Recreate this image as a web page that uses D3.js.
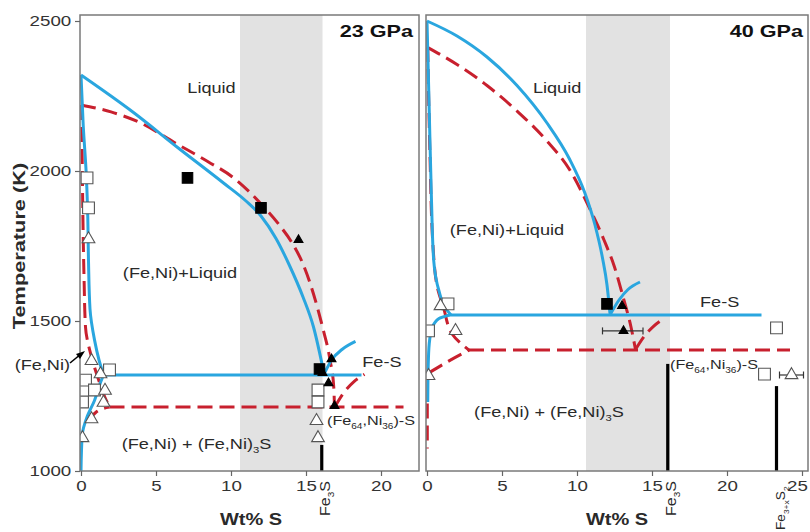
<!DOCTYPE html>
<html><head><meta charset="utf-8">
<script src="https://cdn.jsdelivr.net/npm/d3@7"></script>
<style>html,body{margin:0;padding:0;background:#fff}svg{display:block}</style>
</head><body><svg id="c" width="810" height="532"></svg>
<script>
// ---------- DATA ----------
const tempTicks = [1000, 1500, 2000, 2500];
const wtTicks23 = [0, 5, 10, 15, 20];
const wtTicks40 = [0, 5, 10, 15, 20, 25];
const band23 = [10.6, 16.1];
const band40 = [10.6, 16.2];

// 23 GPa curves [wt% S, T(K)]
const blue23Liquidus = [[0,2320],[3.5,2195],[6.4,2080],[9.5,1960],[11.0,1900],[12.0,1850],[13.0,1775],[13.9,1685],[14.8,1580],[15.5,1480],[16.2,1325]];
const blue23FeS = [[16.2,1322],[16.7,1370],[17.4,1405],[18.3,1432]];
const blue23Eutectic = [[1.4,1320],[18.7,1320]];
const blue23Solidus = [[0,2320],[0.15,2150],[0.35,1990],[0.45,1850],[0.5,1700],[0.6,1540],[0.9,1437],[1.2,1370],[1.5,1320]];
const blue23Lower = [[0.0,1000],[0.08,1120],[0.4,1180],[0.9,1235],[1.3,1295],[1.5,1320]];
const red23Liquidus = [[0,2220],[2,2197],[3.9,2162],[6.4,2090],[8.5,2030],[10.1,1980],[12.1,1885],[13.3,1815],[14.1,1758],[14.8,1690],[15.5,1590],[16.1,1480],[16.6,1370],[16.85,1280],[16.9,1212]];
const red23FeS = [[16.9,1212],[17.5,1260],[18.2,1298],[18.9,1322]];
const red23Eutectic = [[1.9,1213],[21.5,1213]];
const red23Solidus = [[0.05,2220],[0.1,1950],[0.2,1650],[0.3,1480],[0.7,1380],[1.2,1300],[1.6,1245],[1.9,1213]];
const red23Lower = [[0.4,1165],[1.0,1196],[1.9,1213]];

// 40 GPa curves
const blue40Liquidus = [[0,2500],[2,2450],[4,2380],[6,2285],[8,2160],[9.5,2040],[10.5,1930],[11.2,1820],[11.7,1710],[12.0,1620],[12.2,1525]];
const blue40FeS = [[12.2,1520],[12.8,1570],[13.4,1605],[14.2,1630]];
const blue40Eutectic = [[1.4,1520],[22.3,1520]];
const blue40Solidus = [[0,2500],[0.15,2200],[0.3,1900],[0.45,1700],[0.8,1600],[1.2,1545],[1.6,1520]];
const blue40Lower = [[0.05,1230],[0.08,1350],[0.15,1425],[0.35,1478],[0.8,1508],[1.5,1520]];
const red40Liquidus = [[0,2413],[2,2355],[4,2285],[6,2200],[8,2100],[9.5,2005],[10.8,1880],[11.8,1770],[12.5,1680],[13.1,1575],[13.6,1480],[13.9,1405]];
const red40FeS = [[13.9,1405],[14.5,1450],[15.1,1482],[15.7,1505]];
const red40Eutectic = [[2.8,1403],[24.2,1403]];
const red40Solidus = [[0.05,2413],[0.2,2050],[0.4,1750],[0.7,1610],[1.1,1545],[1.7,1455],[2.8,1403]];
const red40Lower = [[0.15,1328],[1.5,1368],[2.8,1403]];
const red40Axis = [[0.02,1225],[0.02,1075]];

// Experimental points [wt% S, T]
const open23Squares = [[0.4,1977],[0.5,1877],[1.9,1337],[0.3,1303],[0.9,1270],[0.1,1230],[15.8,1270],[15.8,1230]];
const open23Triangles = [[0.5,1773],[0.7,1367],[1.3,1323],[1.6,1268],[1.5,1228],[0.7,1173],[0.1,1110],[15.7,1167],[15.8,1110]];
const solid23Squares = [[7.1,1977],[12.0,1877],[15.9,1340]];
const solid23Triangles = [[14.5,1770],[16.7,1373],[16.1,1327],[16.5,1293],[16.9,1217]];
const open40Squares = [[1.4,1557],[0.1,1467],[23.3,1477],[22.5,1323]];
const open40Triangles = [[0.9,1550],[1.9,1467],[0.1,1317],[24.3,1320]];
const solid40Squares = [[12.0,1557]];
const solid40Triangles = [[13.0,1550],[13.1,1467]];
const errorBars40 = [[11.7,14.4,1467],[23.5,25.1,1320]];

// Stoichiometric compounds [wt% S, top T]
const phases23 = [[16.05,1087]];
const phases40 = [[16.05,1357],[23.3,1283]];

// ---------- DRAW ----------
const svg = d3.select('#c');
const FONT = '"Liberation Sans", Arial, Helvetica, sans-serif';
const SX = 1.25;
const BLUE = '#2aa6df', RED = '#c8202e';
const y = d3.scaleLinear().domain([1000, 2520]).range([471, 15]);

function txt(g, x, yy, parts, o) {
  o = o || {};
  const size = o.size || 14.5;
  const t = g.append('text')
    .attr('transform', `translate(${x},${yy}) rotate(${o.rot||0}) scale(${o.sx||SX},1)`)
    .attr('font-family', FONT).attr('font-size', size)
    .attr('font-weight', o.weight||'normal').attr('fill', o.fill||'#2a2a2a')
    .attr('text-anchor', o.anchor||'start');
  let sub = false;
  parts.forEach(p => {
    const isSub = Array.isArray(p);
    const ts = t.append('tspan').text(isSub ? p[0] : p);
    if (isSub) {
      ts.attr('font-size', size*0.62);
      if (!sub) { ts.attr('dy', 4); sub = true; }
    } else if (sub) { ts.attr('dy', -4); sub = false; }
  });
  return t;
}

const panels = [
  {key:'23', left:80, right:419, x0:81, max:22.6, ticks:wtTicks23, band:band23, title:251,
   curves:[[blue23Liquidus,'x','b'],[blue23FeS,'x','b'],[blue23Eutectic,'l','b'],[blue23Solidus,'y','b'],[blue23Lower,'y','b'],
           [red23Liquidus,'x','r'],[red23FeS,'x','r'],[red23Eutectic,'l','r'],[red23Solidus,'y','r'],[red23Lower,'x','r']],
   oSq:open23Squares, oTr:open23Triangles, sSq:solid23Squares, sTr:solid23Triangles, err:[],
   phases:phases23, yAxis:true},
  {key:'40', left:426, right:808, x0:427, max:25.4, ticks:wtTicks40, band:band40, title:617,
   curves:[[blue40Liquidus,'x','b'],[blue40FeS,'x','b'],[blue40Eutectic,'l','b'],[blue40Solidus,'y','b'],[blue40Lower,'y','b'],
           [red40Liquidus,'x','r'],[red40FeS,'x','r'],[red40Eutectic,'l','r'],[red40Solidus,'y','r'],[red40Lower,'x','r'],[red40Axis,'l','r']],
   oSq:open40Squares, oTr:open40Triangles, sSq:solid40Squares, sTr:solid40Triangles, err:errorBars40,
   phases:phases40, yAxis:false}
];

panels.forEach(p => {
  const x = d3.scaleLinear().domain([0, p.max]).range([p.x0, p.x0 + p.max*15]);
  p.x = x;
  const g = svg.append('g');
  const top = y.range()[1], bot = y.range()[0];
  g.append('clipPath').attr('id','clip'+p.key).append('rect')
    .attr('x', p.left).attr('y', top).attr('width', p.right-p.left).attr('height', bot-top);
  g.append('rect').attr('x', x(p.band[0])).attr('y', top)
    .attr('width', x(p.band[1]) - x(p.band[0])).attr('height', bot-top).attr('fill', '#e2e2e2');
  const pg = g.append('g').attr('clip-path', `url(#clip${p.key})`);
  const mkLine = c => {
    const curve = c === 'x' ? d3.curveMonotoneX : c === 'y' ? d3.curveMonotoneY : d3.curveLinear;
    return d3.line().x(d => x(d[0])).y(d => y(d[1])).curve(curve);
  };
  const sortPts = (pts, c) => {
    const s = pts.slice();
    if (c === 'x') s.sort((a,b) => a[0]-b[0]);
    if (c === 'y') s.sort((a,b) => b[1]-a[1]);
    return s;
  };
  pg.selectAll('line.ph').data(p.phases).join('line')
    .attr('x1', d => x(d[0])).attr('x2', d => x(d[0]))
    .attr('y1', y(1000)).attr('y2', d => y(d[1]))
    .attr('stroke', '#000').attr('stroke-width', 3.2);
  const reds = p.curves.filter(c => c[2] === 'r'), blues = p.curves.filter(c => c[2] === 'b');
  pg.selectAll('path.red').data(reds).join('path')
    .attr('d', c => mkLine(c[1])(sortPts(c[0], c[1]))).attr('fill','none').attr('stroke', RED)
    .attr('stroke-width', 3).attr('stroke-dasharray','15,7');
  pg.selectAll('path.blue').data(blues).join('path')
    .attr('d', c => mkLine(c[1])(sortPts(c[0], c[1]))).attr('fill','none').attr('stroke', BLUE).attr('stroke-width', 3);
  p.err.forEach(e => {
    const eg = pg.append('g').attr('stroke','#333').attr('stroke-width',1.2);
    eg.append('line').attr('x1', x(e[0])).attr('x2', x(e[1])).attr('y1', y(e[2])).attr('y2', y(e[2]));
    eg.append('line').attr('x1', x(e[0])).attr('x2', x(e[0])).attr('y1', y(e[2])-3.5).attr('y2', y(e[2])+3.5);
    eg.append('line').attr('x1', x(e[1])).attr('x2', x(e[1])).attr('y1', y(e[2])-3.5).attr('y2', y(e[2])+3.5);
  });
  const sym = (type, size) => d3.symbol().type(type).size(size)();
  const mk = (data, type, size, fill, stroke) => pg.selectAll(null).data(data).join('path')
    .attr('d', sym(type, size))
    .attr('transform', d => `translate(${x(d[0])},${y(d[1])})`)
    .attr('fill', fill).attr('stroke', stroke).attr('stroke-width', 1.1);
  mk(p.oSq, d3.symbolSquare, 140, '#fff', '#555');
  mk(p.oTr, d3.symbolTriangle, 70, '#fff', '#555');
  mk(p.sSq, d3.symbolSquare, 110, '#000', '#000');
  mk(p.sTr, d3.symbolTriangle, 34, '#000', '#000');
  g.append('rect').attr('x', p.left).attr('y', top).attr('width', p.right-p.left).attr('height', bot-top)
    .attr('fill','none').attr('stroke','#7a7a7a').attr('stroke-width',1.5);
  const xa = g.append('g').attr('transform', `translate(0,${bot})`)
    .call(d3.axisBottom(x).tickValues(p.ticks).tickSize(5).tickPadding(4).tickFormat(d3.format('d')));
  xa.select('.domain').remove();
  xa.selectAll('line').attr('stroke','#666').attr('stroke-width',1.2);
  xa.selectAll('text').attr('font-family', FONT).attr('font-size', 15).attr('fill','#333')
    .attr('transform', d => d === 25 ? `translate(-5,0) scale(${SX},1)` : `scale(${SX},1)`);
  if (p.yAxis) {
    const ya = g.append('g').attr('transform', `translate(${p.left},0)`)
      .call(d3.axisLeft(y).tickValues(tempTicks).tickSize(5).tickPadding(2).tickFormat(d3.format('d')));
    ya.select('.domain').remove();
    ya.selectAll('line').attr('stroke','#666').attr('stroke-width',1.2);
    ya.selectAll('text').attr('font-family', FONT).attr('font-size', 15).attr('fill','#333')
      .attr('transform', `scale(${SX},1)`);
  }
  txt(g, p.title, 525, ['Wt% S'], {size:16, weight:'bold', anchor:'middle'});
});

const xL = panels[0].x, xR = panels[1].x;
txt(svg, 25, 246, ['Temperature (K)'], {size:17, weight:'bold', anchor:'middle', rot:-90, sx:1.28});

txt(svg, 413, 37, ['23 GPa'], {size:17, weight:'bold', anchor:'end', sx:1.27, fill:'#111'});
txt(svg, 803, 37, ['40 GPa'], {size:17, weight:'bold', anchor:'end', sx:1.27, fill:'#111'});

txt(svg, xL(8.7), y(2260), ['Liquid'], {anchor:'middle'});
txt(svg, xL(6.6), y(1643), ['(Fe,Ni)+Liquid'], {anchor:'middle'});
txt(svg, xL(7.7), y(1072), ['(Fe,Ni) + (Fe,Ni)', ['3'], 'S'], {anchor:'middle'});
txt(svg, xL(18.75), y(1347), ['Fe-S'], {size:14.5});
txt(svg, xL(16.4), y(1152), ['(Fe', ['64'], ',Ni', ['36'], ')-S'], {size:13.5, sx:1.2});
txt(svg, 70, 370, ['(Fe,Ni)'], {anchor:'end'});
svg.append('line').attr('x1', 70).attr('y1', 363).attr('x2', 81).attr('y2', 354)
  .attr('stroke','#000').attr('stroke-width',1.6);
svg.append('path').attr('d', 'M85,351 L76,354 L80,359 Z').attr('fill','#000');

txt(svg, xR(8.67), y(2260), ['Liquid'], {anchor:'middle'});
txt(svg, xR(5.33), y(1787), ['(Fe,Ni)+Liquid'], {anchor:'middle'});
txt(svg, xR(8.13), y(1180), ['(Fe,Ni) + (Fe,Ni)', ['3'], 'S'], {anchor:'middle'});
txt(svg, xR(18.2), y(1547), ['Fe-S'], {size:14.5});
txt(svg, xR(16.2), y(1340), ['(Fe', ['64'], ',Ni', ['36'], ')-S'], {size:13.5, sx:1.2});

txt(svg, xL(16.05) + 8, 516, ['Fe', ['3'], 'S'], {size:14, rot:-90, sx:1.15});
txt(svg, xR(16.05) + 8, 516, ['Fe', ['3'], 'S'], {size:14, rot:-90, sx:1.15});
txt(svg, xR(23.3) + 8, 530, ['Fe', ['3+x'], 'S', ['2']], {size:13, rot:-90, sx:1.05});
</script></body></html>
